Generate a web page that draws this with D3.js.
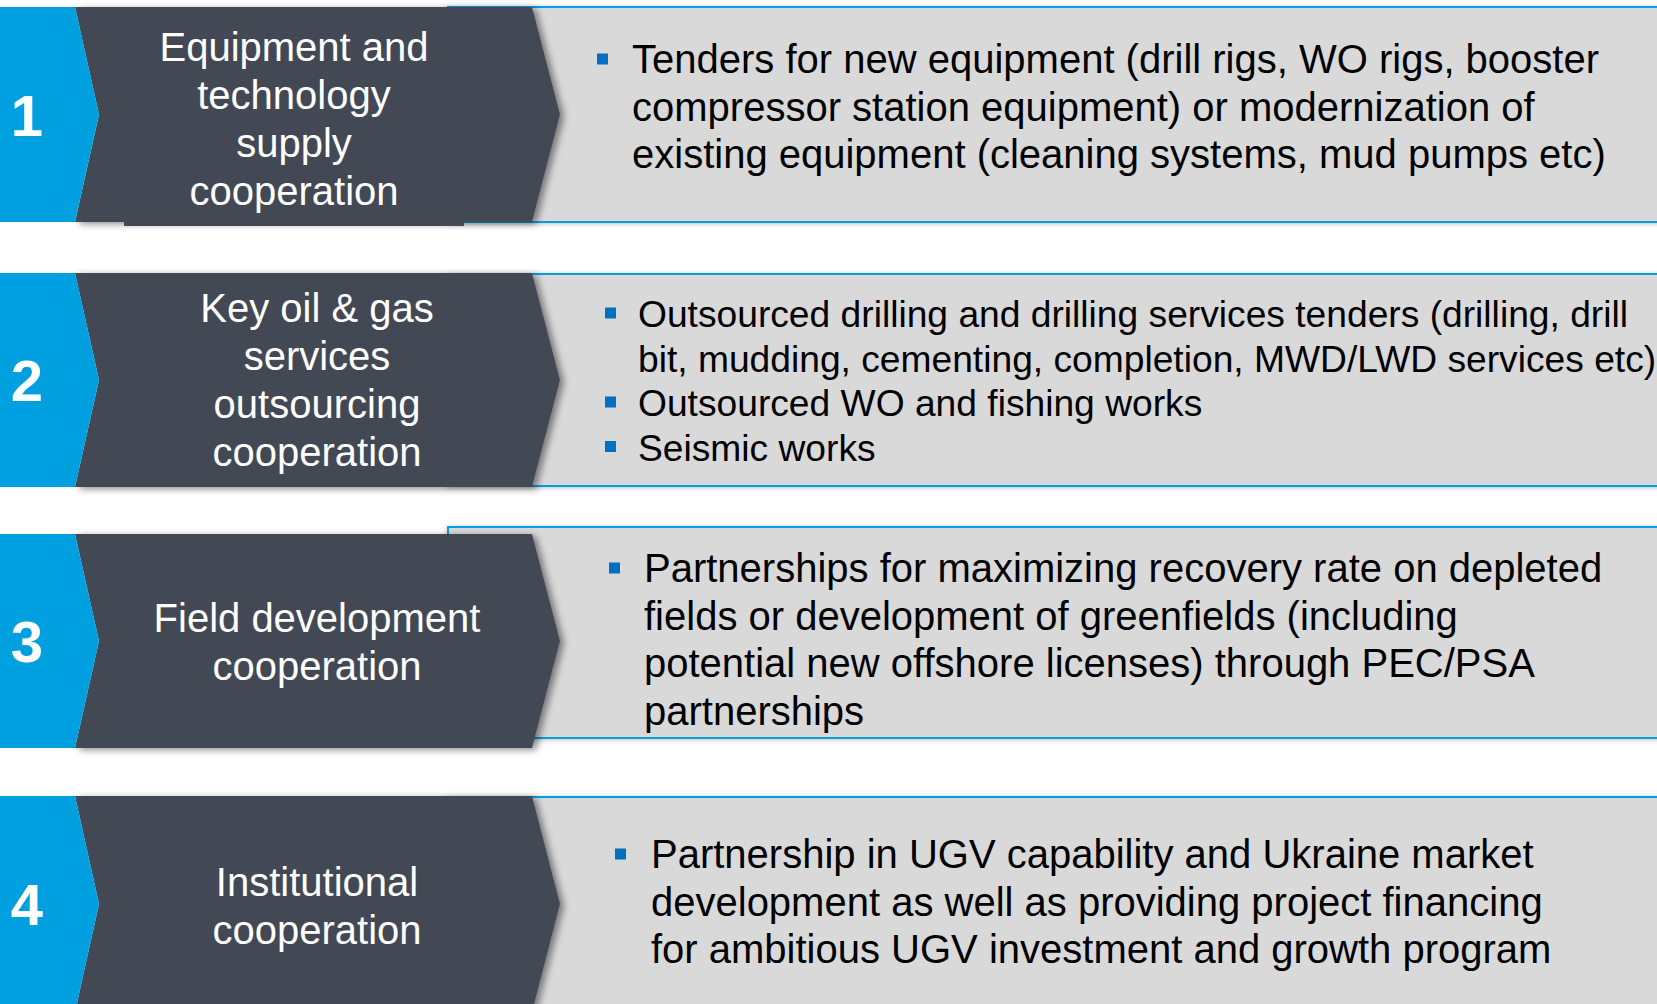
<!DOCTYPE html>
<html>
<head>
<meta charset="utf-8">
<script src="https://cdn.jsdelivr.net/npm/d3@7"></script>
<style>
  html, body { margin: 0; padding: 0; background: #fff; overflow: hidden; }
  svg { display: block; font-family: "Liberation Sans", Arial, sans-serif; }
</style>
</head>
<body>
<div id="chart"></div>
<script>
// row numbers, chevron labels and bullet texts
const numbers = ["1", "2", "3", "4"];

const labels = [
  ["Equipment and", "technology", "supply", "cooperation"],
  ["Key oil & gas", "services", "outsourcing", "cooperation"],
  ["Field development", "cooperation"],
  ["Institutional", "cooperation"]
];

const bullets = [
  [["Tenders for new equipment (drill rigs, WO rigs, booster",
    "compressor station equipment) or modernization of",
    "existing equipment (cleaning systems, mud pumps etc)"]],
  [["Outsourced drilling and drilling services tenders (drilling, drill",
    "bit, mudding, cementing, completion, MWD/LWD services etc)"],
   ["Outsourced WO and fishing works"],
   ["Seismic works"]],
  [["Partnerships for maximizing recovery rate on depleted",
    "fields or development of greenfields (including",
    "potential new offshore licenses) through PEC/PSA",
    "partnerships"]],
  [["Partnership in UGV capability and Ukraine market",
    "development as well as providing project financing",
    "for ambitious UGV investment and growth program"]]
];

// layout of each row (pixels)
const layout = [
  {top: 7,   bottom: 222,  boxTop: 7,   boxBottom: 222,  labelX: 294, labelY: 61,  textY: 73,  bulletX: 597, textX: 632, fs: 40, lh: 47.7},
  {top: 273, bottom: 487,  boxTop: 274, boxBottom: 486,  labelX: 317, labelY: 322, textY: 327, bulletX: 605, textX: 638, fs: 37.2, lh: 44.5},
  {top: 534, bottom: 748,  boxTop: 527, boxBottom: 738,  labelX: 317, labelY: 632, textY: 582, bulletX: 609, textX: 644, fs: 40, lh: 47.6},
  {top: 796, bottom: 1012, boxTop: 797, boxBottom: 1014, labelX: 317, labelY: 896, textY: 868, bulletX: 615, textX: 651, fs: 40, lh: 47.6}
];

const width = 1657, height = 1004;
const blue = "#009fdf", dark = "#434a54", grey = "#d9d9d9", bulletCol = "#0070c0";

const svg = d3.select("#chart").append("svg")
    .attr("width", width)
    .attr("height", height);

const defs = svg.append("defs");
defs.append("filter").attr("id", "shadow")
    .attr("x", "-10%").attr("y", "-10%").attr("width", "130%").attr("height", "130%")
  .append("feDropShadow")
    .attr("dx", 4).attr("dy", 2).attr("stdDeviation", 3.5)
    .attr("flood-color", "#000").attr("flood-opacity", 0.45);
defs.append("filter").attr("id", "soft")
    .attr("x", "-5%").attr("y", "-20%").attr("width", "110%").attr("height", "140%")
  .append("feDropShadow")
    .attr("dx", 0).attr("dy", 1).attr("stdDeviation", 2.5)
    .attr("flood-color", "#000").attr("flood-opacity", 0.25);

const blueW = 75, blueTip = 99, darkR = 532, darkTip = 560, boxX = 448;

const rows = svg.selectAll("g.row")
  .data(layout.map((l, i) => ({l: l, num: numbers[i], label: labels[i], items: bullets[i]})))
  .enter().append("g")
    .attr("class", "row");

// grey box with blue top and bottom rules
rows.append("rect")
    .attr("x", boxX)
    .attr("y", d => d.l.boxTop)
    .attr("width", width - boxX + 10)
    .attr("height", d => d.l.boxBottom - d.l.boxTop)
    .attr("fill", grey)
    .attr("stroke", blue)
    .attr("stroke-width", 2)
    .attr("filter", "url(#soft)");

// dark chevron
rows.append("path")
    .attr("d", d => {
      const t = d.l.top, b = d.l.bottom, m = (t + b) / 2;
      return `M${blueW},${t}L${darkR},${t}L${darkTip},${m}L${darkR},${b}L${blueW},${b}L${blueTip},${m}Z`;
    })
    .attr("fill", dark)
    .attr("filter", "url(#shadow)");

// blue number chevron
rows.append("path")
    .attr("d", d => {
      const t = d.l.top, b = d.l.bottom, m = (t + b) / 2;
      return `M0,${t}L${blueW},${t}L${blueTip},${m}L${blueW},${b}L0,${b}Z`;
    })
    .attr("fill", blue);

rows.append("text")
    .attr("x", 27)
    .attr("y", d => (d.l.top + d.l.bottom) / 2 + 21)
    .attr("text-anchor", "middle")
    .attr("fill", "#fff")
    .attr("font-size", 58)
    .attr("font-weight", "bold")
    .text(d => d.num);

// white labels in the dark chevron
rows.each(function(d) {
  const g = d3.select(this);
  g.selectAll("text.label")
    .data(d.label)
    .enter().append("text")
      .attr("class", "label")
      .attr("x", d.l.labelX)
      .attr("y", (s, i) => d.l.labelY + i * 48)
      .attr("text-anchor", "middle")
      .attr("fill", "#fff")
      .attr("font-size", 40)
      .text(s => s);

  // bullets
  let line = 0;
  d.items.forEach(item => {
    const y0 = d.l.textY + line * d.l.lh;
    g.append("rect")
      .attr("x", d.l.bulletX)
      .attr("y", y0 - 14 - 5.5)
      .attr("width", 11)
      .attr("height", 11)
      .attr("fill", bulletCol);
    item.forEach((s, j) => {
      g.append("text")
        .attr("x", d.l.textX)
        .attr("y", y0 + j * d.l.lh)
        .attr("fill", "#000")
        .attr("font-size", d.l.fs)
        .text(s);
    });
    line += item.length;
  });
});

// small dark strip under the first chevron
svg.append("rect")
    .attr("x", 124)
    .attr("y", layout[0].bottom - 1)
    .attr("width", 340)
    .attr("height", 5)
    .attr("fill", dark);
</script>
</body>
</html>
